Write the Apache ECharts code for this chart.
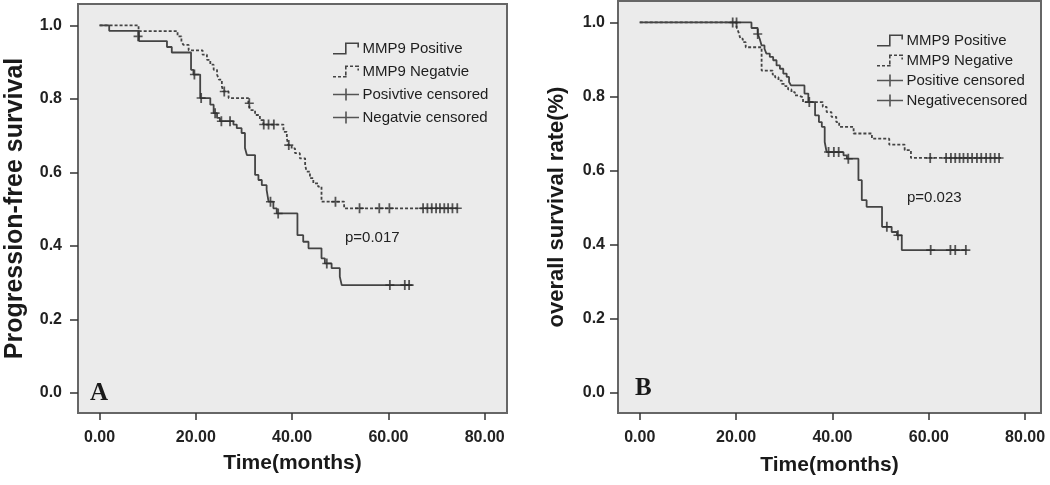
<!DOCTYPE html>
<html>
<head>
<meta charset="utf-8">
<script src="https://cdn.jsdelivr.net/npm/echarts@6/dist/echarts.min.js"></script>
<style>
html,body{margin:0;padding:0;background:#fff;}
#chart{width:1050px;height:485px;}
</style>
</head>
<body>
<div id="chart"></div>
<script>
// ---- tick labels ----
const xTicks = [0, 20, 40, 60, 80];
const yTicks = [0, 0.2, 0.4, 0.6, 0.8, 1.0];

// ---- Panel A: progression-free survival ----
const posA_t = [0, 2.0, 8.2, 14.0, 15.0, 19.0, 19.5, 20.9, 23.0, 23.7, 24.4, 25.0, 27.8, 28.5, 29.5, 30.2, 30.6, 32.3, 33.0, 33.7, 34.7, 35.1, 36.1, 36.8, 41.1, 42.3, 43.4, 46.1, 46.8, 48.2, 49.9, 50.3, 65.0];
const posA_s = [1.0, 0.985, 0.957, 0.941, 0.926, 0.879, 0.866, 0.802, 0.784, 0.761, 0.748, 0.739, 0.730, 0.720, 0.707, 0.666, 0.647, 0.593, 0.579, 0.565, 0.552, 0.520, 0.502, 0.488, 0.429, 0.411, 0.393, 0.366, 0.352, 0.339, 0.316, 0.293, 0.293];
const posA_ct = [8.0, 19.7, 21.1, 24.0, 25.3, 27.1, 35.5, 37.1, 47.2, 60.3, 63.4, 64.3];
const posA_cs = [0.970, 0.866, 0.802, 0.761, 0.739, 0.739, 0.520, 0.488, 0.352, 0.293, 0.293, 0.293];

const negA_t = [0, 8.1, 16.2, 17.0, 17.4, 18.5, 21.4, 22.3, 23.0, 23.7, 24.4, 24.8, 25.4, 25.7, 26.8, 30.9, 31.3, 32.3, 33.3, 34.0, 38.2, 38.9, 39.2, 39.9, 40.6, 41.6, 42.7, 43.0, 43.7, 44.4, 45.4, 46.1, 50.8, 74.8];
const negA_s = [1.0, 0.984, 0.970, 0.956, 0.947, 0.932, 0.920, 0.906, 0.893, 0.879, 0.866, 0.852, 0.834, 0.820, 0.802, 0.788, 0.769, 0.756, 0.742, 0.730, 0.710, 0.692, 0.674, 0.665, 0.652, 0.638, 0.620, 0.602, 0.584, 0.570, 0.561, 0.520, 0.502, 0.502];
const negA_ct = [25.9, 31.1, 34.1, 35.1, 36.2, 39.3, 49.0, 54.0, 58.1, 60.2, 67.2, 68.1, 69.0, 69.9, 70.7, 71.6, 72.4, 73.3, 74.3];
const negA_cs = [0.820, 0.788, 0.730, 0.730, 0.730, 0.674, 0.520, 0.502, 0.502, 0.502, 0.502, 0.502, 0.502, 0.502, 0.502, 0.502, 0.502, 0.502, 0.502];

// ---- Panel B: overall survival ----
const posB_t = [0, 23.2, 24.5, 24.9, 25.3, 25.9, 26.3, 27.0, 27.7, 28.4, 29.1, 29.8, 30.5, 31.0, 31.4, 34.2, 35.0, 36.4, 37.2, 37.8, 38.4, 38.8, 42.3, 43.0, 45.4, 46.1, 47.1, 50.3, 52.3, 53.4, 54.4, 67.9];
const posB_s = [1.0, 0.985, 0.969, 0.956, 0.938, 0.929, 0.916, 0.907, 0.898, 0.884, 0.875, 0.862, 0.853, 0.839, 0.830, 0.808, 0.785, 0.749, 0.731, 0.718, 0.677, 0.650, 0.641, 0.632, 0.574, 0.520, 0.502, 0.448, 0.434, 0.425, 0.385, 0.385];
const posB_ct = [20.1, 24.5, 35.2, 39.2, 40.3, 41.3, 43.3, 51.3, 53.6, 60.4, 64.5, 65.5, 67.7];
const posB_cs = [1.0, 0.969, 0.785, 0.650, 0.650, 0.650, 0.632, 0.448, 0.425, 0.385, 0.385, 0.385, 0.385];

const negB_t = [0, 20.1, 20.5, 20.9, 21.4, 22.0, 25.3, 27.6, 28.1, 28.8, 29.5, 30.2, 30.8, 31.5, 32.2, 32.9, 33.9, 38.0, 38.8, 39.8, 40.8, 41.4, 44.4, 48.2, 51.8, 55.0, 56.3, 75.0];
const negB_s = [1.0, 0.987, 0.974, 0.956, 0.947, 0.933, 0.870, 0.859, 0.852, 0.843, 0.834, 0.828, 0.819, 0.812, 0.803, 0.798, 0.785, 0.772, 0.758, 0.745, 0.731, 0.718, 0.700, 0.686, 0.670, 0.655, 0.634, 0.634];
const negB_ct = [19.3, 60.3, 63.6, 64.6, 65.5, 66.4, 67.2, 68.1, 69.0, 70.0, 70.9, 71.9, 72.8, 73.7, 74.6];
const negB_cs = [1.0, 0.634, 0.634, 0.634, 0.634, 0.634, 0.634, 0.634, 0.634, 0.634, 0.634, 0.634, 0.634, 0.634, 0.634];

// ---- texts ----
const namesA = ['MMP9 Positive', 'MMP9 Negatvie', 'Posivtive censored', 'Negatvie censored'];
const namesB = ['MMP9 Positive', 'MMP9 Negative', 'Positive censored', 'Negativecensored'];

const zip = (a, b) => a.map((v, i) => [v, b[i]]);

const FONT = 'Liberation Sans, Arial, sans-serif';
const LINE_COL = '#444444';
const MARK_COL = '#2e2e2e';
const ICON_POS = 'path://M0 10.4h13v1.6h-13z M12 0h1.6v12h-1.6z M12 0h14v1.6h-14z M24.4 0h1.6v5h-1.6z';
const ICON_NEG = 'path://M0 10.4h3v1.6h-3z M5 10.4h3v1.6h-3z M10 10.4h3.6v1.6h-3.6z M12 6h1.6v4h-1.6z M12 0h1.6v4h-1.6z M12 0h3v1.6h-3z M17 0h3v1.6h-3z M22 0h4v1.6h-4z M24.4 3h1.6v2h-1.6z';
const ICON_CEN = 'path://M0 5.2h26v1.6h-26z M12.2 0h1.6v12h-1.6z';
const PLUS = 'path://M0 4.2h9v1.6h-9z M3.6 0h1.8v10h-1.8z';

function xAxisDef(gi, min, max, gap) {
  return {
    gridIndex: gi, type: 'value', min: min, max: max, position: 'bottom',
    axisLine: {show: false, onZero: false}, splitLine: {show: false},
    axisTick: {show: true, customValues: xTicks, length: 7, lineStyle: {color: '#333', width: 1.5}},
    axisLabel: {customValues: xTicks, formatter: v => v.toFixed(2), margin: 17,
      fontSize: 16, fontWeight: 'bold', color: '#222', fontFamily: FONT},
    name: 'Time(months)', nameLocation: 'middle', nameGap: gap,
    nameTextStyle: {fontSize: 21, fontWeight: 'bold', color: '#1a1a1a', fontFamily: FONT}
  };
}
function yAxisDef(gi, name, gap, margin, fs) {
  return {
    gridIndex: gi, type: 'value', min: -0.055, max: 1.058, position: 'left',
    axisLine: {show: false, onZero: false}, splitLine: {show: false},
    axisTick: {show: true, customValues: yTicks, length: 8, lineStyle: {color: '#333', width: 1.5}},
    axisLabel: {customValues: yTicks, formatter: v => v.toFixed(1), margin: margin,
      fontSize: 16, fontWeight: 'bold', color: '#222', fontFamily: FONT},
    name: name, nameLocation: 'middle', nameGap: gap,
    nameTextStyle: {fontSize: fs, fontWeight: 'bold', color: '#1a1a1a', fontFamily: FONT}
  };
}
function lineSeries(name, gi, t, s, dashed) {
  return {
    type: 'line', name: name, xAxisIndex: gi, yAxisIndex: gi, step: 'end',
    symbol: 'none', showSymbol: false, data: zip(t, s), color: LINE_COL,
    itemStyle: {color: LINE_COL},
    lineStyle: {color: LINE_COL, width: 1.8, type: dashed ? [3, 2] : 'solid'},
    silent: true, z: 3
  };
}
function censorSeries(name, gi, t, s) {
  return {
    type: 'scatter', name: name, xAxisIndex: gi, yAxisIndex: gi,
    symbol: PLUS, symbolSize: [9, 10], data: zip(t, s), color: MARK_COL,
    itemStyle: {color: MARK_COL}, silent: true, z: 4
  };
}
function legendDef(names, left, top, gap) {
  return {
    orient: 'vertical', left: left, top: top, padding: 0,
    itemWidth: 27, itemHeight: 12, itemGap: gap, selectedMode: false,
    itemStyle: {borderWidth: 0},
    textStyle: {fontSize: 15, color: '#1e1e1e', fontFamily: FONT, padding: [0, 0, 0, -2]},
    data: [
      {name: names[0], icon: ICON_POS},
      {name: names[1], icon: ICON_NEG},
      {name: names[2], icon: ICON_CEN},
      {name: names[3], icon: ICON_CEN}
    ]
  };
}

const chart = echarts.init(document.getElementById('chart'), null, {renderer: 'canvas'});
chart.setOption({
  animation: false,
  backgroundColor: '#ffffff',
  grid: [
    {left: 78, top: 4, width: 429, height: 409, show: true, backgroundColor: '#ebebeb', borderColor: '#666', borderWidth: 2},
    {left: 618, top: 1, width: 423, height: 412, show: true, backgroundColor: '#ebebeb', borderColor: '#666', borderWidth: 2}
  ],
  xAxis: [xAxisDef(0, -4.48, 84.63, 40), xAxisDef(1, -4.51, 83.3, 42)],
  yAxis: [yAxisDef(0, 'Progression-free survival', 50, 16, 25), yAxisDef(1, 'overall survival rate(%)', 50, 13, 22)],
  legend: [legendDef(namesA, 333, 41, 8), legendDef(namesB, 877, 33, 5)],
  series: [
    lineSeries(namesA[0], 0, posA_t, posA_s, false),
    lineSeries(namesA[1], 0, negA_t, negA_s, true),
    censorSeries(namesA[2], 0, posA_ct, posA_cs),
    censorSeries(namesA[3], 0, negA_ct, negA_cs),
    lineSeries(namesB[0], 1, posB_t, posB_s, false),
    lineSeries(namesB[1], 1, negB_t, negB_s, true),
    censorSeries(namesB[2], 1, posB_ct, posB_cs),
    censorSeries(namesB[3], 1, negB_ct, negB_cs)
  ],
  graphic: [
    {type: 'text', left: 345, top: 230, z: 10, style: {text: 'p=0.017', font: '15px ' + FONT, fill: '#222'}},
    {type: 'text', left: 907, top: 190, z: 10, style: {text: 'p=0.023', font: '15px ' + FONT, fill: '#222'}},
    {type: 'text', left: 90, top: 381, z: 10, style: {text: 'A', font: 'bold 25px "Liberation Serif", serif', fill: '#1a1a1a'}},
    {type: 'text', left: 635, top: 376, z: 10, style: {text: 'B', font: 'bold 25px "Liberation Serif", serif', fill: '#1a1a1a'}}
  ]
});
</script>
</body>
</html>
